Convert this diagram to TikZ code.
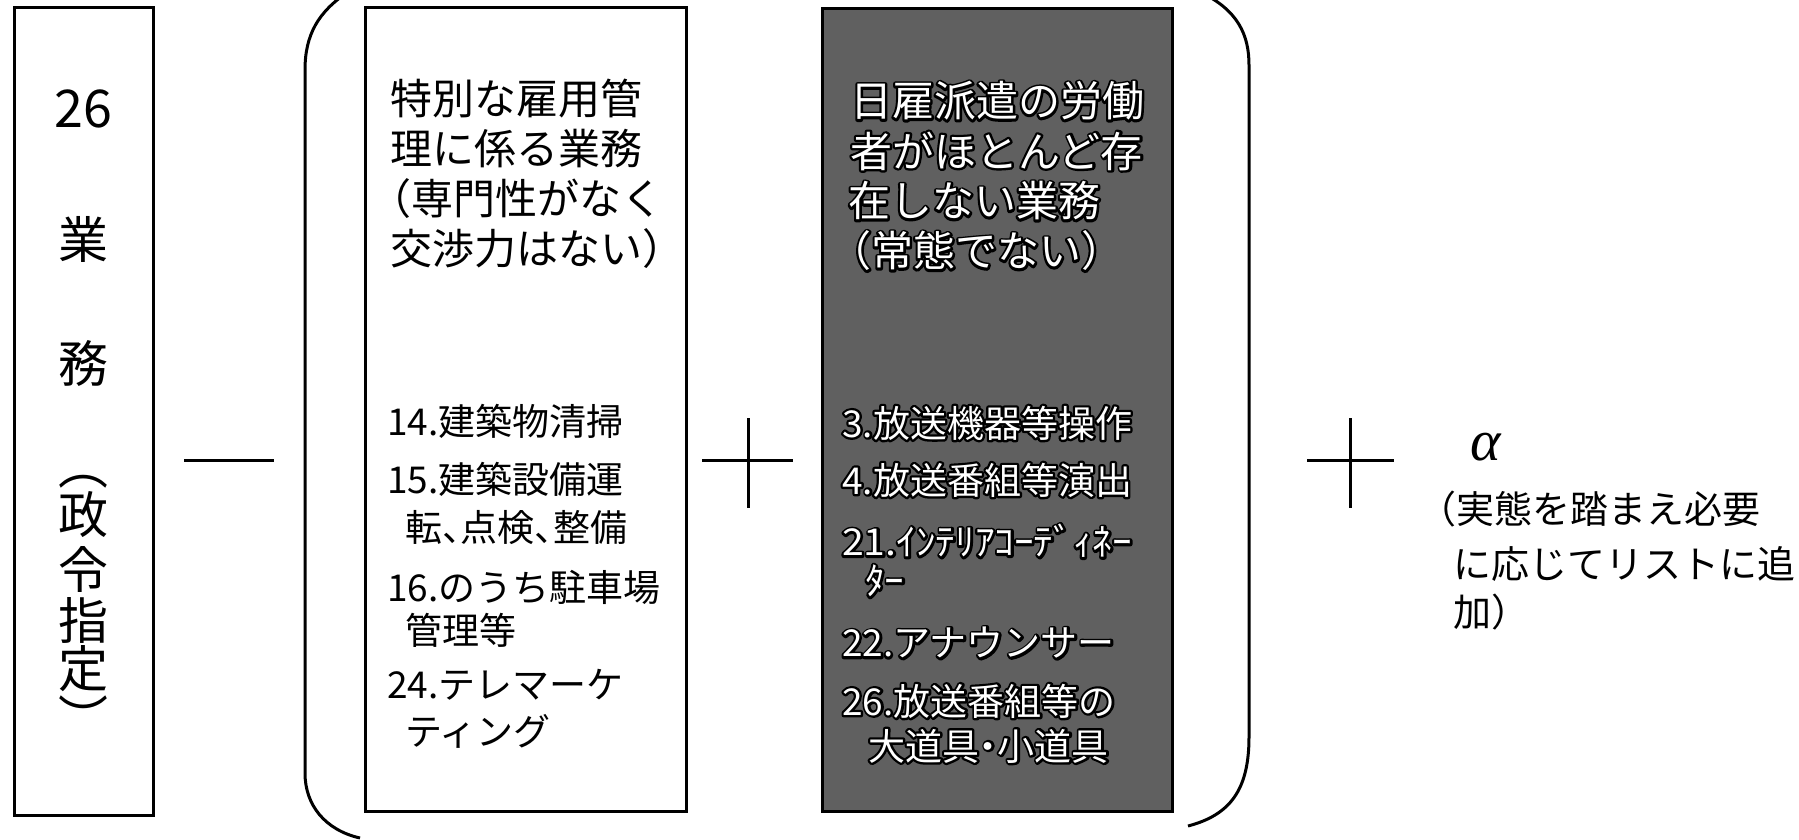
\documentclass[tikz,border=0pt]{standalone}
\usepackage{fontspec}
\newfontfamily\jp[RawFeature=+halt]{Noto Sans CJK JP}
\newfontfamily\jpfull{Noto Sans CJK JP}
\newfontfamily\serifit[ItalicFont={Liberation Serif Italic}]{Liberation Serif}
\definecolor{boxgray}{RGB}{96,96,96}
% white text with a black outline: a stroked black layer under a white layer
\newcommand\oltext[4]{%
  \node[#1,text=black] at (#3) {\special{pdf:code q 1 Tr 4.6 w 1 j 0 G}#4\special{pdf:code Q}};
  \node[#1,text=white] (#2) at (#3) {#4};}
\begin{document}
\begin{tikzpicture}[x=1pt,y=-1pt,
  frame/.style={draw=black,line width=3pt},
  brk/.style={draw=black,line width=3pt},
  sign/.style={draw=black,line width=3pt},
  hd/.style={font=\jp\fontsize{42}{46}\selectfont,anchor=west,inner sep=0pt},
  itm/.style={font=\jp\fontsize{37}{44}\selectfont,anchor=west,inner sep=0pt},
  vt/.style={font=\jpfull\fontsize{50}{56}\selectfont,inner sep=0pt},
  par/.style={font=\jp\fontsize{50}{56}\selectfont,inner sep=0pt,rotate=-90},
  note/.style={font=\jp\fontsize{38}{44}\selectfont,anchor=west,inner sep=0pt}]
\useasboundingbox (0,0) rectangle (1799,839);
\fill[white] (0,0) rectangle (1799,839);
\clip (0,0) rectangle (1799,839);

% left box
\draw[frame] (14,7) rectangle (153,815);
\node[vt,font=\jpfull\fontsize{52}{56}\selectfont] (n26) at (83,109) {26};
\node[vt] (gyo) at (83,239) {業};
\node[vt] (mu) at (83,363) {務};
\node[par] (lp) at (83,478) {（};
\node[vt] (sei) at (83,515) {政};
\node[vt] (rei) at (83,569) {令};
\node[vt] (shi) at (83,620) {指};
\node[vt] (tei) at (83,669) {定};
\node[par] (rp) at (83,706) {）};

% minus
\draw[sign] (184,460) -- (274,460);

% brackets
\draw[brk] (348,-8) .. controls (318,12) and (305,35) .. (305,70) -- (305,773)
  .. controls (305,805) and (325,830) .. (360,838);
\draw[brk] (1200,-8) .. controls (1238,10) and (1249,35) .. (1249,65) -- (1249,737)
  .. controls (1249,790) and (1230,815) .. (1188,826);

% box 2
\draw[frame] (365,7) rectangle (686,811);
\node[hd] (h21) at (390,99) {特別な雇用管};
\node[hd] (h22) at (390,149) {理に係る業務};
\node[hd] (h23) at (390,199) {（専門性がなく};
\node[hd] (h24) at (390,249) {交渉力はない）};
\node[itm] (i14) at (387,421) {14.建築物清掃};
\node[itm] (i15) at (387,479) {15.建築設備運};
\node[itm] (i15b) at (405,528) {転、点検、整備};
\node[itm] (i16) at (387,587) {16.のうち駐車場};
\node[itm] (i16b) at (405,630) {管理等};
\node[itm] (i24) at (387,685) {24.テレマーケ};
\node[itm] (i24b) at (405,731) {ティング};

% plus 1
\draw[sign] (702,460) -- (793,460);
\draw[sign] (748,418) -- (748,508);

% box 3
\filldraw[frame,fill=boxgray] (822,8) rectangle (1172,811);
\oltext{hd}{h31}{850,101}{日雇派遣の労働}
\oltext{hd}{h32}{850,151}{者がほとんど存}
\oltext{hd}{h33}{848,201}{在しない業務}
\oltext{hd}{h34}{850,251}{（常態でない）}
\oltext{itm}{j3}{842,423}{3.放送機器等操作}
\oltext{itm}{j4}{842,480}{4.放送番組等演出}
\oltext{itm,xscale=1.06,transform shape}{j21}{842,541}{21.ｲﾝﾃﾘｱｺｰﾃﾞｨﾈｰ}
\oltext{itm,xscale=1.06,transform shape}{j21b}{865,581}{ﾀｰ}
\oltext{itm}{j22}{842,643}{22.アナウンサー}
\oltext{itm}{j26}{842,701}{26.放送番組等の}
\oltext{itm}{j26b}{868,746}{大道具・小道具}

% plus 2
\draw[sign] (1307,460) -- (1394,460);
\draw[sign] (1350,418) -- (1350,508);

% alpha and note
\node[font=\serifit\itshape\fontsize{58}{60}\selectfont,inner sep=0pt] (alpha) at (1486,447) {α};
\node[note] (t1) at (1437,509) {（実態を踏まえ必要};
\node[note] (t2) at (1453,564) {に応じてリストに追};
\node[note] (t3) at (1453,612) {加）};
\end{tikzpicture}
\end{document}
